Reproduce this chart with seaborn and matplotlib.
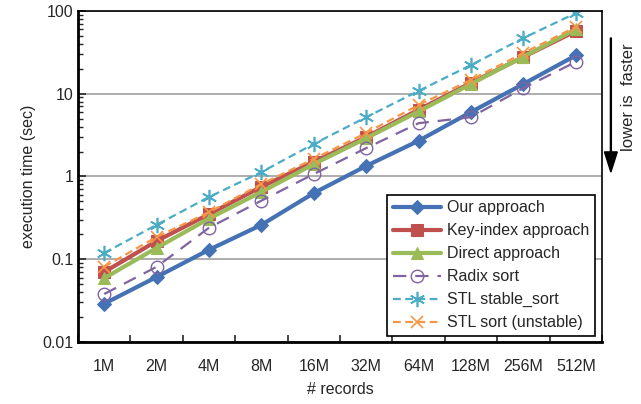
import numpy as np
import pandas as pd
import matplotlib
matplotlib.use("Agg")
import matplotlib.pyplot as plt
import seaborn as sns

# data
records = ["1M", "2M", "4M", "8M", "16M", "32M", "64M", "128M", "256M", "512M"]
our_approach = [0.029, 0.061, 0.13, 0.26, 0.63, 1.34, 2.7, 6.0, 13.1, 29.0]
key_index = [0.070, 0.166, 0.35, 0.75, 1.5, 3.0, 6.4, 13.5, 27.8, 57.0]
direct = [0.059, 0.137, 0.31, 0.65, 1.41, 2.9, 6.1, 13.1, 28.0, 60.0]
radix_sort = [0.038, 0.081, 0.24, 0.51, 1.07, 2.2, 4.4, 5.2, 11.7, 24.2]
stl_stable = [0.119, 0.26, 0.565, 1.13, 2.47, 5.2, 10.8, 22.2, 47.0, 94.0]
stl_sort = [0.081, 0.186, 0.37, 0.81, 1.63, 3.36, 7.3, 14.7, 31.0, 64.0]

series = {
    "Our approach": our_approach,
    "Key-index approach": key_index,
    "Direct approach": direct,
    "Radix sort": radix_sort,
    "STL stable_sort": stl_stable,
    "STL sort (unstable)": stl_sort,
}

styles = {
    "Our approach": dict(color="#4472B4", lw=3.0, marker="D", ms=7, ls="-"),
    "Key-index approach": dict(color="#C0504D", lw=3.0, marker="s", ms=8, ls="-"),
    "Direct approach": dict(color="#9BBB59", lw=3.0, marker="^", ms=8, ls="-"),
    "Radix sort": dict(color="#8064A2", lw=1.6, marker="o", ms=9, ls=(0, (6, 4)),
                       mfc="none", mew=1.0),
    "STL stable_sort": dict(color="#4BACC6", lw=1.6, marker=(6, 2, 0), ms=11, ls=(0, (3.5, 2)),
                            mew=1.2),
    "STL sort (unstable)": dict(color="#F79646", lw=1.6, marker="x", ms=9, ls=(0, (3.5, 2)),
                                mew=1.2),
}

rows = []
for name, vals in series.items():
    for i, (r, v) in enumerate(zip(records, vals)):
        rows.append({"records": r, "pos": i, "time": v, "method": name})
df = pd.DataFrame(rows)

sns.set_style("white")
plt.rcParams["font.family"] = ["Liberation Sans", "DejaVu Sans"]
fs = 11.5

fig = plt.figure(figsize=(6.41, 4.04), dpi=100)
ax = fig.add_axes([0.1217, 0.1535, 0.8175, 0.8195])

for name in series:
    st = dict(styles[name])
    sub = df[df["method"] == name]
    sns.lineplot(data=sub, x="pos", y="time", ax=ax, label=name,
                 color=st.pop("color"), linewidth=st.pop("lw"), marker=st.pop("marker"),
                 markersize=st.pop("ms"), linestyle=st.pop("ls"),
                 markeredgecolor=None, **st)

ax.set_yscale("log")
ax.set_ylim(0.01, 100)
ax.set_xlim(-0.5, len(records) - 0.5)
ax.set_xticks(range(len(records)))
ax.set_xticklabels(records)
ax.set_xticks(np.arange(-0.5, len(records), 1), minor=True)
ax.tick_params(axis="x", which="major", length=0, pad=12, labelsize=fs)
ax.tick_params(axis="x", which="minor", direction="in", length=5, width=1.2, bottom=True)
ax.set_yticks([0.01, 0.1, 1, 10, 100])
ax.set_yticklabels(["0.01", "0.1", "1", "10", "100"])
ax.tick_params(axis="y", which="major", direction="in", length=6, width=1.2, left=True, labelsize=fs)
ax.tick_params(axis="y", which="minor", direction="in", length=3.5, width=1.0, left=True)
ax.yaxis.grid(True, which="major", color="#A0A0A0", lw=1.2)
ax.xaxis.grid(False)
for s in ax.spines.values():
    s.set_color("black")
ax.spines["left"].set_linewidth(2)
ax.spines["bottom"].set_linewidth(2)
ax.spines["top"].set_linewidth(1.2)
ax.spines["right"].set_linewidth(1.2)

ax.set_xlabel("# records", fontsize=fs, labelpad=6)
ax.set_ylabel("execution time (sec)", fontsize=fs, labelpad=4)

leg = ax.legend(loc="lower right", bbox_to_anchor=(0.987, 0.018), frameon=True, fancybox=False,
                edgecolor="black", framealpha=1, fontsize=fs, handlelength=3.0,
                borderpad=0.35, labelspacing=0.5, handletextpad=0.4, borderaxespad=0)
leg.get_frame().set_linewidth(1.2)

fig.text(0.98, 0.76, "lower is  faster", rotation=90,
         ha="center", va="center", fontsize=12)
fig.patches.append(matplotlib.patches.FancyArrow(
    0.953, 0.906, 0, -0.332, width=0.0015, head_width=0.02, head_length=0.05,
    length_includes_head=True, color="black", transform=fig.transFigure, figure=fig))

fig.savefig("out.png", dpi=100)
